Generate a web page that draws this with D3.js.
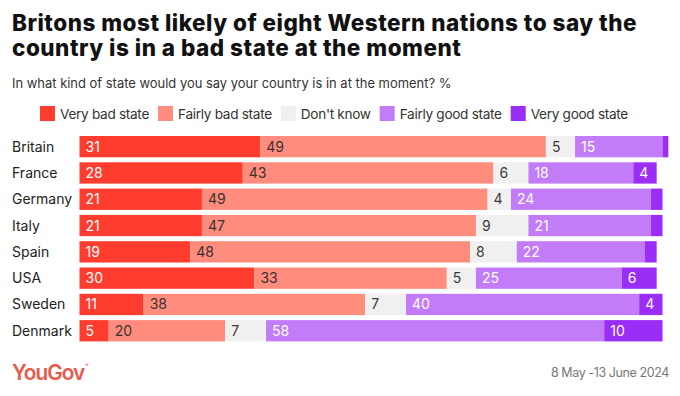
<!DOCTYPE html>
<html>
<head>
<meta charset="utf-8">
<script src="https://cdn.jsdelivr.net/npm/d3@7"></script>
<style>
  body { margin: 0; background: #fff; }
  svg { display: block; font-family: Inter, "Open Sans", sans-serif; }
</style>
</head>
<body>
<div id="chart"></div>
<script>
// Data
// =================================
var countries = ["Britain", "France", "Germany", "Italy", "Spain", "USA", "Sweden", "Denmark"];
var categories = ["Very bad state", "Fairly bad state", "Don't know", "Fairly good state", "Very good state"];
var veryBad    = [31, 28, 21, 21, 19, 30, 11, 5];
var fairlyBad  = [49, 43, 49, 47, 48, 33, 38, 20];
var dontKnow   = [5, 6, 4, 9, 8, 5, 7, 7];
var fairlyGood = [15, 18, 24, 21, 22, 25, 40, 58];
var veryGood   = [1, 4, 2, 2, 2, 6, 4, 10];

var colors     = ["#ff3d2e", "#ff8c7c", "#f0f0f0", "#c27cf8", "#9a2df6"];
var textColors = ["#fff", "#3a3232", "#3a3a3a", "#fff", "#fff"];

var titleLines = ["Britons most likely of eight Western nations to say the",
                  "country is in a bad state at the moment"];
var subtitle = "In what kind of state would you say your country is in at the moment? %";
var dateText = "8 May -13 June 2024";

// Step 1: Set up the svg
// =================================
var svgWidth = 680;
var svgHeight = 396;

var svg = d3.select("#chart")
  .append("svg")
  .attr("width", svgWidth)
  .attr("height", svgHeight);

// shrink/grow font so a text fits a measured width
function fitWidth(sel, target) {
  var w = sel.node().getComputedTextLength();
  var fs = parseFloat(sel.attr("font-size"));
  sel.attr("font-size", fs * target / w);
}

// Step 2: Title and subtitle
// =================================
var titles = svg.selectAll("text.title")
  .data(titleLines)
.enter().append("text")
  .attr("class", "title")
  .attr("x", 12)
  .attr("y", (d, i) => 31 + i * 25)
  .attr("font-size", 22.5)
  .attr("font-weight", 800)
  .attr("fill", "#111")
  .text(d => d);

// spread the letters so the first line reaches its width
var t0 = titles.nodes()[0];
var extra = (625 - t0.getComputedTextLength()) / titleLines[0].length;
titles.attr("letter-spacing", extra);

var sub = svg.append("text")
  .attr("x", 12)
  .attr("y", 88)
  .attr("font-size", 14)
  .attr("fill", "#333")
  .text(subtitle);
fitWidth(sub, 440);

// Step 3: Legend
// =================================
var legend = svg.append("g").attr("id", "legend");
var lx = 40;
categories.forEach(function(c, i) {
  legend.append("rect")
    .attr("x", lx)
    .attr("y", 106)
    .attr("width", 15)
    .attr("height", 15)
    .attr("fill", colors[i]);
  var t = legend.append("text")
    .attr("x", lx + 20)
    .attr("y", 118.5)
    .attr("font-size", 13.6)
    .attr("letter-spacing", -0.3)
    .attr("fill", "#333")
    .text(c);
  lx += 20 + t.node().getComputedTextLength() + 9;
});

// Step 4: Scales
// =================================
var xScale = d3.scaleLinear()
  .domain([0, 100])
  .range([79.5, 662.5]);

var yScale = d3.scaleBand()
  .domain(countries)
  .range([133.5, 343.9])
  .paddingInner(0.19)
  .paddingOuter(0.095);

var series = [veryBad, fairlyBad, dontKnow, fairlyGood, veryGood];
var rows = countries.map(function(c, i) {
  var row = { country: c };
  categories.forEach(function(k, j) { row[k] = series[j][i]; });
  return row;
});
var stacked = d3.stack().keys(categories)(rows);

// Step 5: Country labels
// =================================
svg.append("g")
  .attr("id", "yLabels")
  .selectAll("text")
  .data(countries)
.enter().append("text")
  .attr("x", 12)
  .attr("y", d => yScale(d) + yScale.bandwidth() / 2)
  .attr("dy", "0.36em")
  .attr("font-size", 14)
  .attr("fill", "#222")
  .text(d => d);

// Step 6: Bars and value labels
// =================================
var layers = svg.append("g")
  .attr("id", "bars")
  .selectAll("g")
  .data(stacked)
.enter().append("g");

layers.selectAll("rect")
  .data((d, i) => d.map(p => ({ p: p, i: i })))
.enter().append("rect")
  .attr("x", d => xScale(d.p[0]))
  .attr("y", d => yScale(d.p.data.country))
  .attr("width", d => xScale(d.p[1]) - xScale(d.p[0]))
  .attr("height", yScale.bandwidth())
  .attr("fill", d => colors[d.i]);

layers.selectAll("text")
  .data((d, i) => d.map(p => ({ p: p, i: i })).filter(d => d.p[1] - d.p[0] >= 3))
.enter().append("text")
  .attr("x", d => xScale(d.p[0]) + 6)
  .attr("y", d => yScale(d.p.data.country) + yScale.bandwidth() / 2)
  .attr("dy", "0.36em")
  .attr("font-size", 14)
  .attr("fill", d => textColors[d.i])
  .text(d => d.p[1] - d.p[0]);

// Step 7: Footer
// =================================
var logo = svg.append("text")
  .attr("x", 12)
  .attr("y", 379.5)
  .attr("font-size", 20)
  .attr("font-weight", 600)
  .attr("letter-spacing", -1)
  .attr("fill", "#ea5a4b")
  .text("YouGov");
fitWidth(logo, 72);
var lw = logo.node().getComputedTextLength();
svg.append("text")
  .attr("x", 12 + lw + 1)
  .attr("y", 367)
  .attr("font-size", 5)
  .attr("fill", "#ea5a4b")
  .text("®");

svg.append("text")
  .attr("x", 669)
  .attr("y", 377)
  .attr("text-anchor", "end")
  .attr("font-size", 12.5)
  .attr("letter-spacing", -0.4)
  .attr("fill", "#777")
  .text(dateText);
</script>
</body>
</html>
